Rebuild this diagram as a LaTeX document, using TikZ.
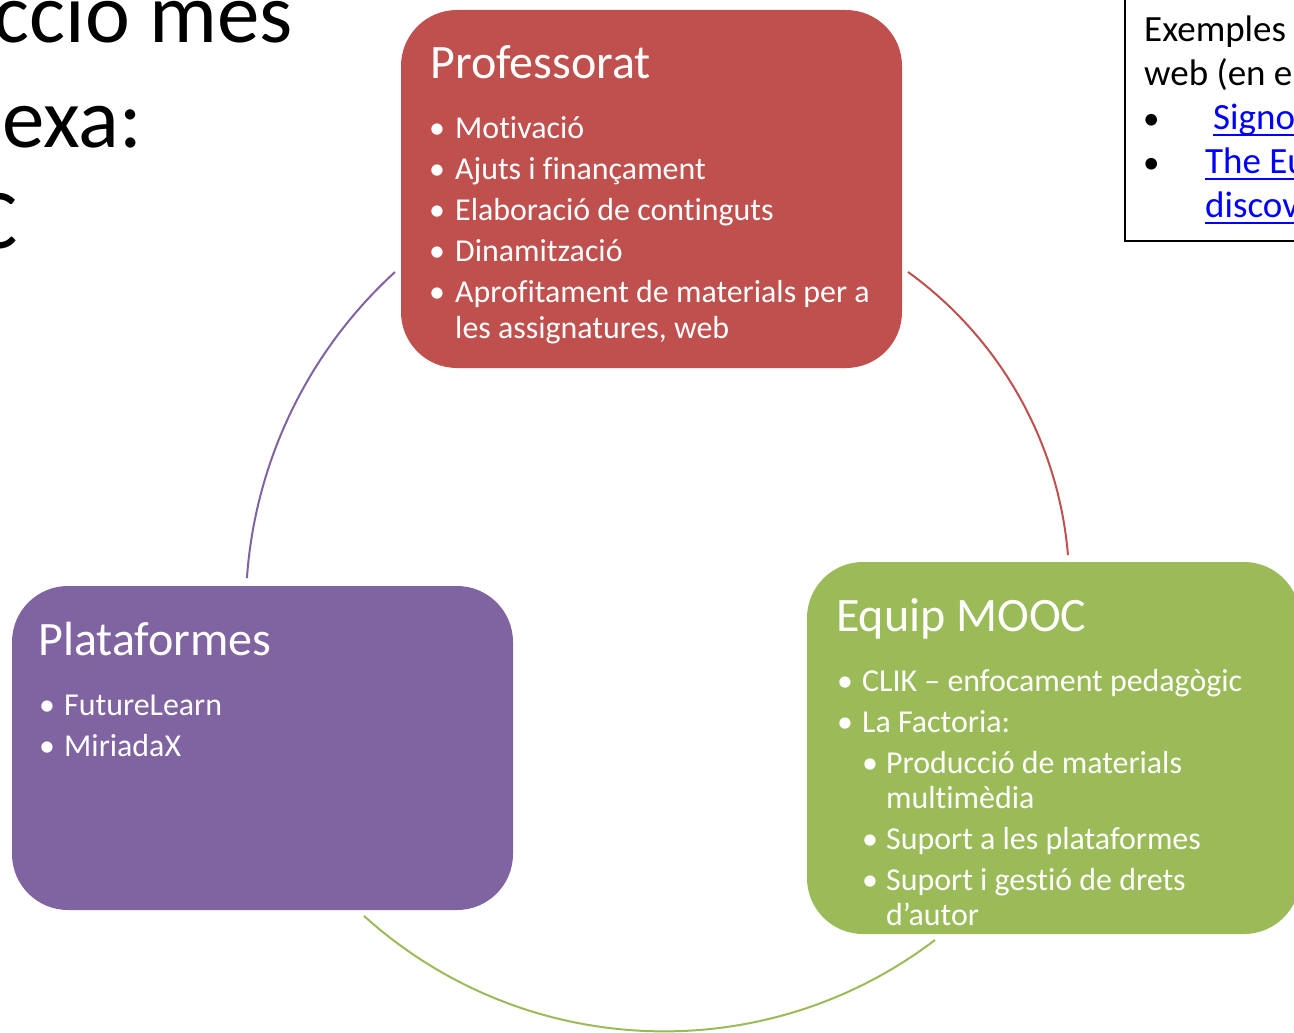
\documentclass[tikz,border=0pt]{standalone}
\usepackage{fontspec}
\setmainfont{Carlito}[Ligatures=NoCommon]
\definecolor{cred}{HTML}{C0504D}
\definecolor{cgreen}{HTML}{9BBB59}
\definecolor{cpurple}{HTML}{8064A2}
\definecolor{clink}{HTML}{0000FF}
\newcommand{\bul}[1][26pt]{\llap{\makebox[#1][l]{•}}}
\newcommand{\nbul}{{\fontsize{33}{36}\selectfont •}}
\newsavebox\lnkbox
\newcommand{\lnk}[1]{\sbox\lnkbox{#1}\rlap{\rule[-6.5pt]{\wd\lnkbox}{1.8pt}}\usebox\lnkbox}
\begin{document}
\begin{tikzpicture}[x=1pt,y=-1pt,
  box/.style={rectangle, rounded corners=56pt, inner sep=0pt, draw=none},
  ttl/.style={anchor=base west, inner sep=0pt, text=white, font=\fontsize{48}{57}\selectfont},
  bdy/.style={anchor=base west, inner sep=0pt, text=white, font=\fontsize{31.9}{38}\selectfont},
  big/.style={anchor=base east, inner sep=0pt, font=\fontsize{85}{102}\selectfont},
  note/.style={anchor=base west, inner sep=0pt, font=\fontsize{37}{44}\selectfont},
  cyc/.style={line width=2pt}]
\useasboundingbox (0,0) rectangle (1294,1033);
\clip (0,0) rectangle (1294,1033);
\fill[white] (0,0) rectangle (1294,1033);

% big title fragments
\node[big] (t1) at (293,43) {cció més};
\node[big] (t2) at (142,147) {exa:};
\node[big] (t3) at (18,248) {C};

% note box
\node[draw=black, line width=1.6pt, rectangle, inner sep=0pt, minimum width=195pt, minimum height=271pt] (notebox) at (1222.5,105.5) {};
\node[note] (n1) at (1144,42) {Exemples};
\node[note] (n2) at (1144,85) {web (en e};
\node[note] (n3) at (1143,129) {\makebox[70pt][l]{\nbul}\textcolor{clink}{\lnk{Signo}}};
\node[note] (n4) at (1143,173) {\makebox[62pt][l]{\nbul}\textcolor{clink}{\lnk{The Eu}}};
\node[note] (n5) at (1205,217) {\textcolor{clink}{\lnk{discov}}};

% boxes
\node[box, fill=cred, minimum width=501pt, minimum height=358pt] (prof) at (651.5,189) {};
\node[box, fill=cgreen, minimum width=493pt, minimum height=372pt] (equip) at (1053.5,748) {};
\node[box, fill=cpurple, minimum width=501pt, minimum height=324pt] (plat) at (262.5,748) {};

% Professorat
\node[ttl] (p0) at (430,79) {Professorat};
\node[bdy] (p1) at (455,138) {\bul Motivació};
\node[bdy] (p2) at (455,179) {\bul Ajuts i finançament};
\node[bdy] (p3) at (455,220) {\bul Elaboració de continguts};
\node[bdy] (p4) at (455,261) {\bul Dinamització};
\node[bdy] (p5) at (455,302) {\bul Aprofitament de materials per a};
\node[bdy] (p6) at (455,338) {les assignatures, web};

% Equip MOOC
\node[ttl] (e0) at (836,631) {Equip MOOC};
\node[bdy] (e1) at (862,691) {\bul[25pt]CLIK – enfocament pedagògic};
\node[bdy] (e2) at (862,732) {\bul[25pt]La Factoria:};
\node[bdy] (e3) at (886,773) {\bul[24pt]Producció de materials};
\node[bdy] (e4) at (886,808) {multimèdia};
\node[bdy] (e5) at (886,849) {\bul[24pt]Suport a les plataformes};
\node[bdy] (e6) at (886,890) {\bul[24pt]Suport i gestió de drets};
\node[bdy] (e7) at (886,925) {d’autor};

% Plataformes
\node[ttl] (l0) at (38,655) {Plataformes};
\node[bdy] (l1) at (64,715) {\bul[25pt]FutureLearn};
\node[bdy] (l2) at (64,756) {\bul[25pt]MiriadaX};

% cycle arcs
\coordinate (aL) at (395,272);
\draw[cyc, cpurple] (aL) arc[start angle=-132.43, end angle=-175.94, radius=458.7];
\coordinate (aR) at (908,272);
\draw[cyc, cred] (aR) arc[start angle=-54.15, end angle=-4.80, radius=389.4];
\coordinate (aB) at (935,940);
\draw[cyc, cgreen] (aB) arc[start angle=52.73, end angle=132.1, radius=447.5];
\end{tikzpicture}
\end{document}
